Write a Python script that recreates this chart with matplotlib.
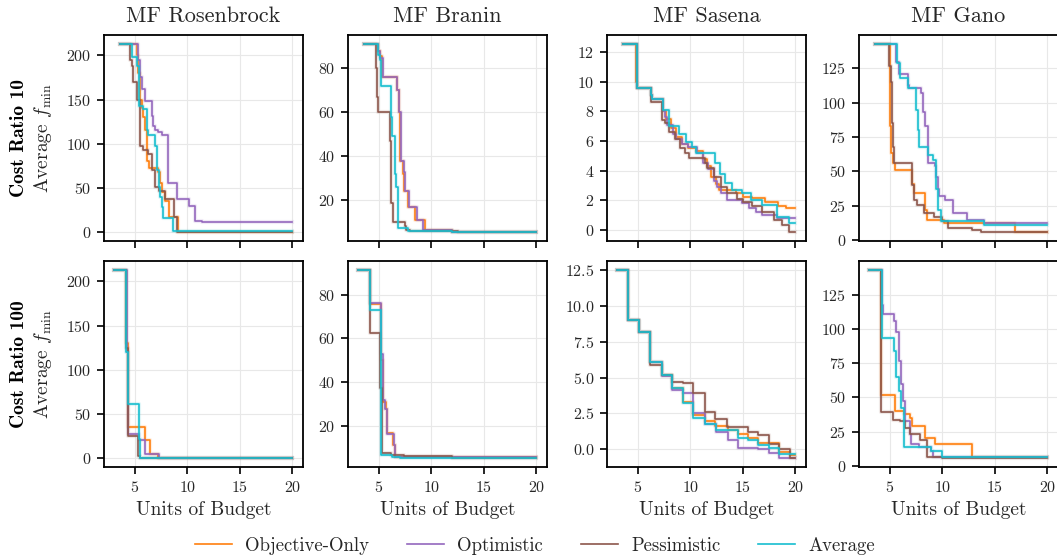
import matplotlib
matplotlib.use("Agg")
import matplotlib.pyplot as plt

plt.rcParams['font.family'] = 'serif'
plt.rcParams['font.serif'] = ['cmr10', 'DejaVu Serif']
plt.rcParams['mathtext.fontset'] = 'cm'
plt.rcParams['axes.formatter.use_mathtext'] = True
plt.rcParams['axes.unicode_minus'] = False

# ---- data ----
functions = ["MF Rosenbrock", "MF Branin", "MF Sasena", "MF Gano"]
cost_ratios = [10, 100]
methods = ["Objective-Only", "Optimistic", "Pessimistic", "Average"]
colors = ["tab:orange", "tab:purple", "tab:brown", "tab:cyan"]
x_ticks = [5, 10, 15, 20]
y_ticks = [
    [[0, 50, 100, 150, 200], [20, 40, 60, 80], [0, 2, 4, 6, 8, 10, 12], [0, 25, 50, 75, 100, 125]],
    [[0, 50, 100, 150, 200], [20, 40, 60, 80], [0.0, 2.5, 5.0, 7.5, 10.0, 12.5], [0, 25, 50, 75, 100, 125]],
]

# Rosenbrock, cost ratio 10
ros10_obj_x = [3.55, 5.16, 5.3, 5.45, 5.64, 5.8, 5.96, 6.1, 6.3, 7.2, 7.4, 7.6, 7.9, 8.2, 9.1, 20]
ros10_obj_y = [212.5, 200, 180, 150, 140, 130, 115, 80, 72, 68, 55, 45, 35, 17, 0.5, 0.5]
ros10_opt_x = [3.55, 5.3, 5.45, 5.64, 5.96, 6.6, 6.75, 6.91, 7.23, 7.55, 8.12, 8.98, 10.1, 10.73, 11.37, 20]
ros10_opt_y = [212.5, 195, 175, 162, 148, 131, 120, 116, 113, 110, 55, 38, 30, 13, 11, 11]
ros10_pes_x = [3.55, 4.52, 4.7, 4.84, 5.16, 5.5, 5.8, 6.2, 6.6, 6.9, 7.3, 7.9, 8.7, 9.0, 20]
ros10_pes_y = [212.5, 195, 188, 170, 150, 97, 93, 88, 70, 51, 46, 38, 17, 0.5, 0.5]
ros10_avg_x = [3.55, 4.7, 5.16, 5.4, 5.8, 6.1, 6.27, 6.9, 7.1, 7.25, 7.4, 7.55, 7.7, 8.65, 20]
ros10_avg_y = [212.5, 198, 188, 143, 139, 116, 110, 97, 70, 51, 40, 28, 16, 0.8, 0.8]

# Branin, cost ratio 10
bra10_obj_x = [3.54, 4.9, 5.06, 5.3, 6.7, 6.9, 7.0, 7.3, 7.4, 7.8, 8.4, 9.35, 12.0, 20]
bra10_obj_y = [91, 88, 85.7, 76, 70, 60, 38, 32, 24, 17, 11, 6.4, 5.6, 5.6]
bra10_opt_x = [3.54, 4.95, 5.1, 5.35, 6.7, 6.9, 7.05, 7.35, 7.45, 7.85, 8.6, 9.2, 12.0, 20]
bra10_opt_y = [91, 88, 85, 76, 70, 60, 38, 33, 24, 17, 11, 6.4, 5.6, 5.6]
bra10_pes_x = [3.54, 4.75, 4.85, 4.95, 6.05, 6.15, 6.3, 7.45, 7.6, 8.0, 10.0, 12.5, 20]
bra10_pes_y = [91, 80, 67, 60, 47, 18.6, 9.8, 8.0, 6.4, 6.0, 5.8, 5.6, 5.6]
bra10_avg_x = [3.54, 4.95, 5.1, 5.2, 6.17, 6.27, 6.49, 6.65, 6.81, 7.75, 12.0, 20]
bra10_avg_y = [91, 86, 84, 72, 58, 49, 32, 26, 7.2, 5.9, 5.6, 5.6]

# Sasena, cost ratio 10
sas10_obj_x = [3.53, 4.8, 4.94, 6.2, 6.35, 7.4, 7.7, 8.1, 8.6, 9.2, 9.8, 10.5, 11.2, 11.6, 12.0, 12.4, 12.7, 14.3, 15.0, 15.9, 17.1, 18.3, 19.1, 20]
sas10_obj_y = [12.5, 10.0, 9.55, 9.1, 8.8, 8.0, 7.5, 6.9, 6.3, 5.8, 5.5, 5.3, 4.8, 4.3, 3.6, 3.1, 2.7, 2.5, 2.25, 2.15, 1.9, 1.6, 1.5, 1.5]
sas10_opt_x = [3.53, 4.94, 6.2, 6.35, 7.4, 7.6, 7.8, 8.3, 8.6, 9.2, 9.8, 10.6, 11.2, 11.7, 12.2, 12.5, 12.9, 13.5, 14.9, 15.6, 16.2, 16.8, 18.2, 20]
sas10_opt_y = [12.5, 9.55, 9.1, 8.8, 8.0, 7.6, 7.1, 6.5, 6.1, 5.8, 5.6, 5.2, 4.5, 4.1, 3.3, 2.9, 2.5, 2.0, 1.8, 1.5, 1.25, 1.0, 0.85, 0.85]
sas10_pes_x = [3.53, 4.94, 6.2, 7.3, 7.6, 8.0, 8.5, 9.0, 9.5, 9.9, 11.4, 11.6, 12.2, 12.9, 13.5, 14.4, 15.0, 15.9, 16.8, 18.0, 18.7, 19.4, 20]
sas10_pes_y = [12.5, 9.55, 8.65, 7.4, 7.2, 6.6, 6.1, 5.5, 5.2, 4.85, 4.5, 4.2, 3.6, 2.9, 2.5, 2.1, 1.9, 1.6, 1.25, 0.7, 0.35, -0.1, -0.1]
sas10_avg_x = [3.53, 4.9, 6.2, 6.35, 7.4, 7.95, 8.9, 9.6, 10.1, 10.5, 12.3, 12.8, 13.3, 14.0, 14.9, 15.8, 16.8, 18.2, 19.4, 20]
sas10_avg_y = [12.5, 9.55, 9.1, 8.8, 8.1, 7.0, 6.5, 5.9, 5.6, 5.2, 4.5, 3.8, 3.15, 2.7, 2.5, 2.0, 1.7, 0.9, 0.5, 0.5]

# Gano, cost ratio 10
gan10_obj_x = [3.57, 5.0, 5.1, 5.25, 5.45, 7.05, 7.3, 8.35, 8.55, 10.1, 16.9, 20]
gan10_obj_y = [142.5, 83, 63, 56, 51, 41, 34, 22, 14.6, 12, 6, 6]
gan10_opt_x = [3.57, 5.6, 5.9, 6.7, 6.85, 7.95, 8.12, 8.38, 8.6, 9.24, 9.4, 9.55, 9.71, 10.2, 11.0, 12.3, 14.0, 20]
gan10_opt_y = [142.5, 130, 121, 113, 111, 107, 93, 83, 56, 54, 46, 37, 32, 29, 19.5, 14.6, 12.5, 12.5]
gan10_pes_x = [3.57, 4.95, 5.1, 5.19, 5.32, 5.41, 7.05, 7.25, 7.55, 8.25, 9.2, 10.0, 10.5, 12.8, 13.7, 20]
gan10_pes_y = [142.5, 127, 115, 85, 68, 56, 40, 29, 25.6, 19.5, 17, 13.4, 8.5, 7.3, 6.0, 6.0]
gan10_avg_x = [3.57, 5.65, 5.95, 6.7, 7.45, 7.65, 7.8, 8.6, 9.1, 9.35, 9.55, 9.85, 14.0, 20]
gan10_avg_y = [142.5, 129, 118, 111, 95, 80, 68, 62, 58, 37, 22, 13.4, 10.8, 10.8]

# Rosenbrock, cost ratio 100
ros100_obj_x = [3.0, 4.1, 4.3, 6.0, 6.4, 7.2, 20]
ros100_obj_y = [212.5, 130, 35, 20, 4, 0.3, 0.3]
ros100_opt_x = [3.0, 4.2, 4.36, 5.35, 6.0, 7.3, 20]
ros100_opt_y = [212.5, 120, 27, 20, 4.5, 0.3, 0.3]
ros100_pes_x = [3.0, 4.1, 4.3, 5.3, 5.45, 20]
ros100_pes_y = [212.5, 125, 24.7, 2, 0.3, 0.3]
ros100_avg_x = [3.0, 4.15, 4.35, 5.35, 5.5, 20]
ros100_avg_y = [212.5, 120, 61.6, 21, 0.3, 0.3]

# Branin, cost ratio 100
bra100_obj_x = [3.0, 4.15, 5.2, 5.35, 5.65, 5.75, 6.35, 6.5, 20]
bra100_obj_y = [91, 75.5, 50, 31, 28, 16.8, 11.5, 5.8, 5.8]
bra100_opt_x = [3.0, 4.15, 5.22, 5.35, 5.6, 5.75, 6.4, 6.55, 20]
bra100_opt_y = [91, 76, 53, 32, 28, 16.6, 11.6, 5.8, 5.8]
bra100_pes_x = [3.0, 4.1, 5.1, 5.25, 6.1, 7.4, 10.3, 12.0, 20]
bra100_pes_y = [91, 62.4, 37.5, 7.8, 7.0, 6.6, 6.3, 5.7, 5.7]
bra100_avg_x = [3.0, 4.1, 5.15, 6.2, 7.0, 20]
bra100_avg_y = [91, 73, 7.0, 6.0, 5.7, 5.7]

# Sasena, cost ratio 100
sas100_obj_x = [3.0, 4.07, 5.1, 6.15, 7.27, 8.25, 9.25, 10.25, 11.35, 12.35, 13.55, 14.5, 15.5, 16.45, 18.4, 19.5, 20]
sas100_obj_y = [12.5, 9.0, 8.2, 6.1, 5.2, 4.25, 3.3, 2.35, 1.95, 1.6, 1.3, 1.05, 0.75, 0.4, -0.2, -0.4, -0.4]
sas100_opt_x = [3.0, 4.07, 5.1, 6.15, 7.27, 8.25, 9.25, 10.25, 11.35, 12.45, 13.55, 14.5, 15.5, 16.45, 17.45, 18.4, 20]
sas100_opt_y = [12.5, 9.0, 8.2, 6.1, 5.1, 4.1, 3.9, 2.5, 1.75, 1.2, 0.6, 0.1, 0.05, 0.0, -0.25, -0.6, -0.6]
sas100_pes_x = [3.0, 4.07, 5.1, 6.15, 7.27, 8.25, 9.25, 10.25, 11.35, 12.35, 13.45, 15.5, 16.45, 17.45, 18.4, 19.5, 20]
sas100_pes_y = [12.5, 9.0, 8.2, 5.9, 5.2, 4.7, 4.6, 3.9, 2.6, 2.1, 1.55, 1.2, 0.95, 0.35, 0.0, -0.6, -0.6]
sas100_avg_x = [3.0, 4.07, 5.1, 6.15, 7.27, 8.25, 9.25, 10.25, 11.35, 12.45, 14.5, 15.5, 16.45, 17.45, 18.4, 20]
sas100_avg_y = [12.5, 9.0, 8.2, 6.1, 5.2, 4.3, 3.2, 2.15, 1.75, 1.3, 0.8, 0.6, 0.25, 0.05, -0.35, -0.35]

# Gano, cost ratio 100
gan100_obj_x = [3.0, 4.1, 5.45, 6.3, 6.9, 7.05, 8.35, 9.3, 12.85, 20]
gan100_obj_y = [143, 52, 40, 38, 35, 29, 20.6, 15.7, 6.2, 6.2]
gan100_opt_x = [3.0, 4.24, 4.35, 5.35, 5.55, 5.85, 6.05, 6.2, 6.45, 6.9, 7.0, 7.75, 8.9, 9.05, 20]
gan100_opt_y = [143, 118, 111, 106, 98, 77, 60, 47.5, 33, 23, 15.7, 13.7, 10.8, 6.2, 6.2]
gan100_pes_x = [3.0, 4.1, 5.3, 5.95, 6.45, 6.95, 7.85, 8.5, 10.0, 20]
gan100_pes_y = [143, 39.7, 33.6, 32.8, 28, 23, 19, 6.4, 6.0, 6.0]
gan100_avg_x = [3.0, 4.24, 5.4, 5.6, 5.9, 6.05, 6.3, 8.95, 10.0, 20]
gan100_avg_y = [143, 93.6, 84, 65, 55, 42.6, 13.7, 10.8, 6.2, 6.2]

panels = [
    [
        [(ros10_obj_x, ros10_obj_y), (ros10_opt_x, ros10_opt_y), (ros10_pes_x, ros10_pes_y), (ros10_avg_x, ros10_avg_y)],
        [(bra10_obj_x, bra10_obj_y), (bra10_opt_x, bra10_opt_y), (bra10_pes_x, bra10_pes_y), (bra10_avg_x, bra10_avg_y)],
        [(sas10_obj_x, sas10_obj_y), (sas10_opt_x, sas10_opt_y), (sas10_pes_x, sas10_pes_y), (sas10_avg_x, sas10_avg_y)],
        [(gan10_obj_x, gan10_obj_y), (gan10_opt_x, gan10_opt_y), (gan10_pes_x, gan10_pes_y), (gan10_avg_x, gan10_avg_y)],
    ],
    [
        [(ros100_obj_x, ros100_obj_y), (ros100_opt_x, ros100_opt_y), (ros100_pes_x, ros100_pes_y), (ros100_avg_x, ros100_avg_y)],
        [(bra100_obj_x, bra100_obj_y), (bra100_opt_x, bra100_opt_y), (bra100_pes_x, bra100_pes_y), (bra100_avg_x, bra100_avg_y)],
        [(sas100_obj_x, sas100_obj_y), (sas100_opt_x, sas100_opt_y), (sas100_pes_x, sas100_pes_y), (sas100_avg_x, sas100_avg_y)],
        [(gan100_obj_x, gan100_obj_y), (gan100_opt_x, gan100_opt_y), (gan100_pes_x, gan100_pes_y), (gan100_avg_x, gan100_avg_y)],
    ],
]

# ---- figure ----
W, H = 1057, 559
fig = plt.figure(figsize=(W / 100, H / 100), dpi=100)

col_left = [104, 348, 607, 859]
ax_w = 199
row_top = [35, 261]
ax_h = 206
txt = '0.15'

handles = []
for r in range(2):
    for c in range(4):
        ax = fig.add_axes([col_left[c] / W, 1 - (row_top[r] + ax_h) / H, ax_w / W, ax_h / H])
        for k, (xs, ys) in enumerate(panels[r][c]):
            ax.step(xs, ys, where='post', color=colors[k], lw=3, alpha=0.13)
            ln, = ax.step(xs, ys, where='post', color=colors[k], lw=1.2, label=methods[k])
            if r == 0 and c == 0:
                handles.append(ln)
        ax.set_xlim(2.05, 21.0)
        ax.set_xticks(x_ticks)
        ax.set_yticks(y_ticks[r][c])
        ax.grid(True, color='#e8e8e8', lw=0.8)
        ax.set_axisbelow(True)
        for s in ax.spines.values():
            s.set_linewidth(1.3)
        ax.tick_params(direction='out', length=5, width=1.2, labelsize=11.5, pad=4,
                       labelcolor=txt)
        if r == 0:
            ax.set_title(functions[c], fontsize=16, pad=9, color=txt)
            ax.tick_params(labelbottom=False)
        else:
            ax.set_xlabel("Units of Budget", fontsize=14, labelpad=5, color=txt)
        if c == 0:
            ax.set_ylabel(r"Average $f_{\min}$", fontsize=14, color=txt)
            ax.yaxis.set_label_coords(-0.25, 0.5)
            fig.text(19 / W, 1 - (row_top[r] + ax_h / 2) / H, "Cost Ratio %d" % cost_ratios[r],
                     family='cmb10', fontsize=14, rotation=90, ha='center', va='center', color='black')

fig.legend(handles=handles, labels=methods, loc='center', bbox_to_anchor=(0.506, 0.024),
           ncol=4, frameon=False, fontsize=13.5, handlelength=2.0, columnspacing=2.0,
           handletextpad=0.7, labelcolor=txt)

fig.savefig("out.png", dpi=100)
